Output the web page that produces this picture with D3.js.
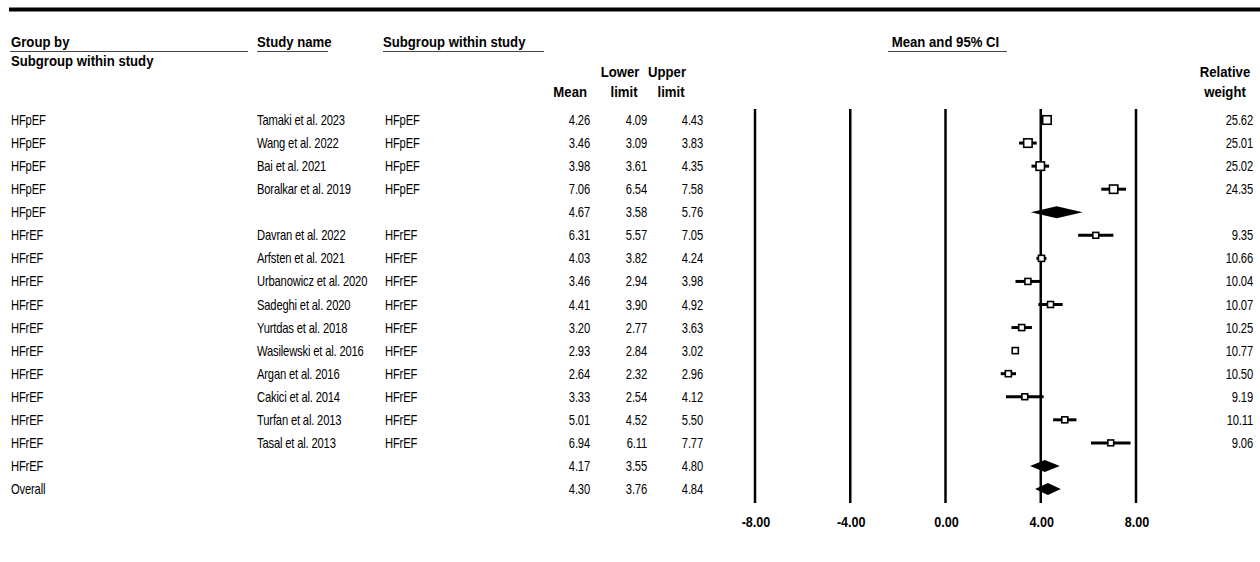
<!DOCTYPE html>
<html>
<head>
<meta charset="utf-8">
<script src="https://cdn.jsdelivr.net/npm/d3@7/dist/d3.min.js"></script>
<style>
  html, body { margin: 0; padding: 0; background: #fff; }
  svg { display: block; }
  .hdr { font-family: "Liberation Sans", Arial, sans-serif; font-weight: bold; font-size: 14px; fill: #000; }
  .cell { font-family: "Liberation Sans", Arial, sans-serif; font-size: 14px; fill: #000; letter-spacing: -0.2px; }
  .tick { font-family: "Liberation Sans", Arial, sans-serif; font-weight: bold; font-size: 14px; fill: #000; }
</style>
</head>
<body>
<svg id="chart" width="1260" height="562"></svg>
<script>
// Rows of the forest plot, top to bottom
const groupLabels = ["HFpEF","HFpEF","HFpEF","HFpEF","HFpEF",
  "HFrEF","HFrEF","HFrEF","HFrEF","HFrEF","HFrEF","HFrEF","HFrEF","HFrEF","HFrEF","HFrEF","Overall"];
const studyNames = ["Tamaki et al. 2023","Wang et al. 2022","Bai et al. 2021","Boralkar et al. 2019","",
  "Davran et al. 2022","Arfsten et al. 2021","Urbanowicz et al. 2020","Sadeghi et al. 2020","Yurtdas et al. 2018",
  "Wasilewski et al. 2016","Argan et al. 2016","Cakici et al. 2014","Turfan et al. 2013","Tasal et al. 2013","",""];
const subgroupLabels = ["HFpEF","HFpEF","HFpEF","HFpEF","",
  "HFrEF","HFrEF","HFrEF","HFrEF","HFrEF","HFrEF","HFrEF","HFrEF","HFrEF","HFrEF","",""];
const meanValues  = [4.26,3.46,3.98,7.06,4.67, 6.31,4.03,3.46,4.41,3.20,2.93,2.64,3.33,5.01,6.94,4.17,4.30];
const lowerValues = [4.09,3.09,3.61,6.54,3.58, 5.57,3.82,2.94,3.90,2.77,2.84,2.32,2.54,4.52,6.11,3.55,3.76];
const upperValues = [4.43,3.83,4.35,7.58,5.76, 7.05,4.24,3.98,4.92,3.63,3.02,2.96,4.12,5.50,7.77,4.80,4.84];
const relWeights  = [25.62,25.01,25.02,24.35,null, 9.35,10.66,10.04,10.07,10.25,10.77,10.50,9.19,10.11,9.06,null,null];
const axisTicks = [-8, -4, 0, 4, 8];

const rows = meanValues.map((m, i) => ({
  group: groupLabels[i], study: studyNames[i], sub: subgroupLabels[i],
  mean: m, lo: lowerValues[i], hi: upperValues[i], w: relWeights[i],
  summary: relWeights[i] === null
}));

const svg = d3.select("#chart");
const fmt = v => d3.format(".2f")(v).replace("\u2212", "-");

// Layout
const rowY = d3.scalePoint().domain(d3.range(rows.length)).range([120, 489]);
const x = d3.scaleLinear().domain([-8, 8]).range([755, 1136]);
const boxSide = d3.scaleLinear().domain([9, 26]).range([5.8, 8.6]);
const plotTop = 109, plotBottom = 503;
const squeeze = 0.8;   // condensed body text

// Top rule
svg.append("rect").attr("x", 9).attr("y", 7.5).attr("width", 1251).attr("height", 4).attr("fill", "#000");

// Column headers
const hdr = [
  {t: "Group by", x: 11, y: 47, a: "start"},
  {t: "Subgroup within study", x: 11, y: 66, a: "start"},
  {t: "Study name", x: 257, y: 47, a: "start"},
  {t: "Subgroup within study", x: 383, y: 47, a: "start"},
  {t: "Mean and 95% CI", x: x(0), y: 47, a: "middle"},
  {t: "Mean", x: 587, y: 97, a: "end"},
  {t: "Lower", x: 620, y: 77, a: "middle"},
  {t: "limit", x: 624, y: 97, a: "middle"},
  {t: "Upper", x: 667, y: 77, a: "middle"},
  {t: "limit", x: 671, y: 97, a: "middle"},
  {t: "Relative", x: 1225, y: 77, a: "middle"},
  {t: "weight", x: 1225, y: 97, a: "middle"}
];
svg.append("g").selectAll("text").data(hdr).join("text")
  .attr("class", "hdr")
  .attr("transform", d => `translate(${d.x},${d.y}) scale(0.94,1)`)
  .attr("text-anchor", d => d.a).text(d => d.t);

// Header underlines
const underlines = [[10, 248], [257, 328], [383, 544], [888, 1007]];
svg.append("g").selectAll("line").data(underlines).join("line")
  .attr("x1", d => d[0]).attr("x2", d => d[1])
  .attr("y1", 51.5).attr("y2", 51.5)
  .attr("stroke", "#444").attr("stroke-width", 1);

// Table cells
const cols = [
  {key: d => d.group, x: 11, a: "start"},
  {key: d => d.study, x: 257, a: "start"},
  {key: d => d.sub, x: 385, a: "start"},
  {key: d => fmt(d.mean), x: 590, a: "end"},
  {key: d => fmt(d.lo), x: 647, a: "end"},
  {key: d => fmt(d.hi), x: 703, a: "end"},
  {key: d => d.w === null ? "" : fmt(d.w), x: 1253, a: "end"}
];
const table = svg.append("g");
cols.forEach(c => {
  table.append("g").selectAll("text").data(rows).join("text")
    .attr("class", "cell")
    .attr("transform", (d, i) => `translate(${c.x},${rowY(i) + 5}) scale(${squeeze},1)`)
    .attr("text-anchor", c.a)
    .text(c.key);
});

// Vertical reference lines at the axis ticks
svg.append("g").selectAll("line").data(axisTicks).join("line")
  .attr("x1", d => x(d)).attr("x2", d => x(d))
  .attr("y1", plotTop).attr("y2", plotBottom)
  .attr("stroke", "#000").attr("stroke-width", 2.5);

// Axis tick labels
svg.append("g").selectAll("text").data(axisTicks).join("text")
  .attr("class", "tick")
  .attr("transform", d => `translate(${x(d) + 1},527) scale(0.9,1)`)
  .attr("text-anchor", "middle")
  .text(d => fmt(d));

// Study estimates: CI line and weighted box
const studies = rows.map((d, i) => ({...d, i})).filter(d => !d.summary);
const marks = svg.append("g");
marks.selectAll("line.ci").data(studies).join("line")
  .attr("class", "ci")
  .attr("x1", d => x(d.lo)).attr("x2", d => x(d.hi))
  .attr("y1", d => rowY(d.i)).attr("y2", d => rowY(d.i))
  .attr("stroke", "#000").attr("stroke-width", 3);
marks.selectAll("rect.box").data(studies).join("rect")
  .attr("class", "box")
  .attr("x", d => x(d.mean) - boxSide(d.w) / 2)
  .attr("y", d => rowY(d.i) - boxSide(d.w) / 2)
  .attr("width", d => boxSide(d.w)).attr("height", d => boxSide(d.w))
  .attr("fill", "#fff").attr("stroke", "#000").attr("stroke-width", 1.6);

// Pooled estimates as diamonds
const pooled = rows.map((d, i) => ({...d, i})).filter(d => d.summary);
marks.selectAll("path.diamond").data(pooled).join("path")
  .attr("class", "diamond")
  .attr("d", d => {
    const y = rowY(d.i), h = 6;
    return `M${x(d.lo)},${y}L${x(d.mean)},${y - h}L${x(d.hi)},${y}L${x(d.mean)},${y + h}Z`;
  })
  .attr("fill", "#000");
</script>
</body>
</html>
